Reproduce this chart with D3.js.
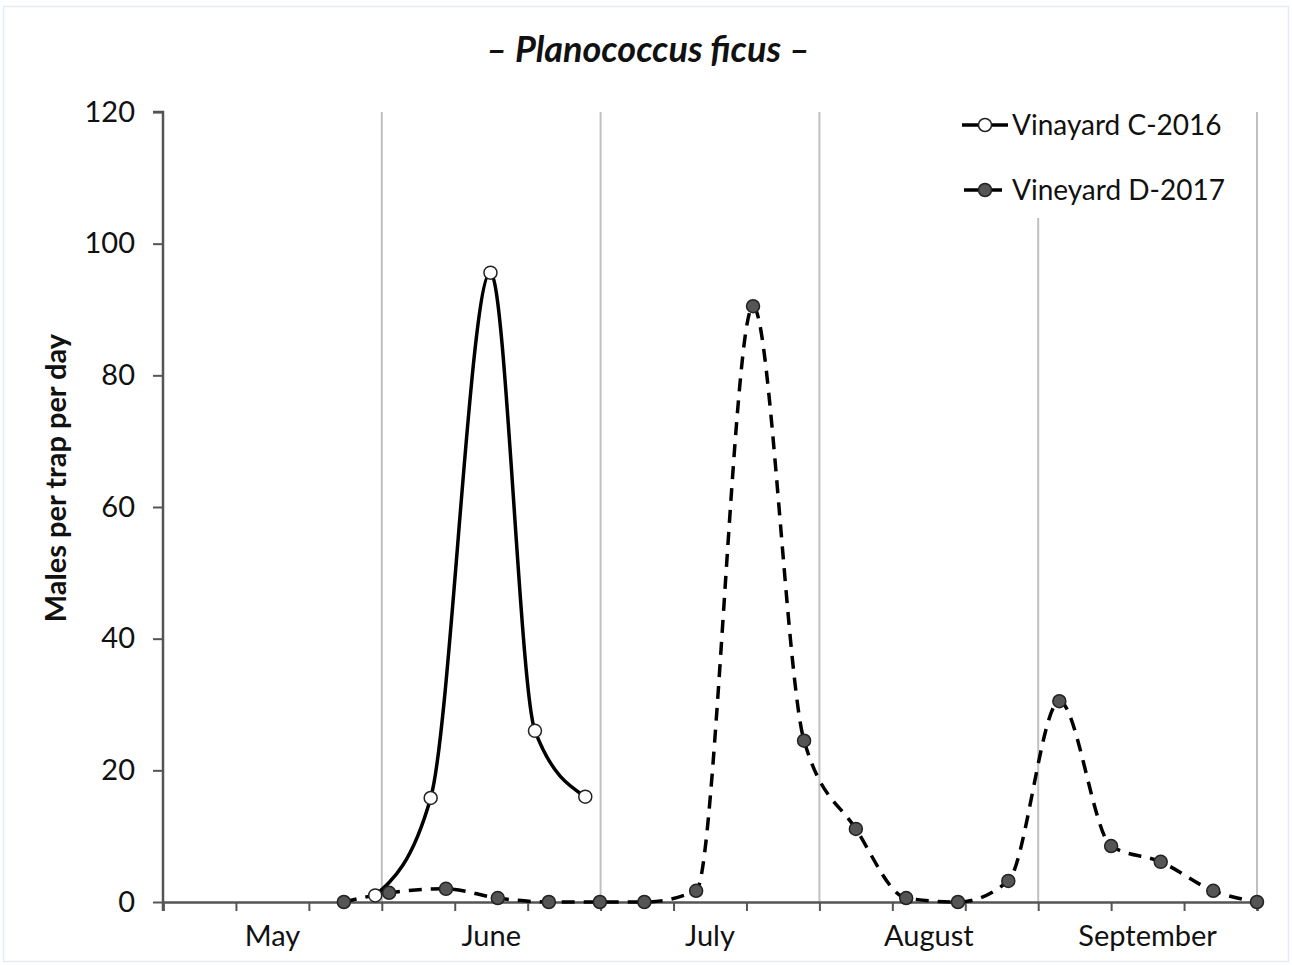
<!DOCTYPE html>
<html>
<head>
<meta charset="utf-8">
<script src="https://cdn.jsdelivr.net/npm/d3@7"></script>
<style>
  html, body { margin: 0; padding: 0; background: #fff; }
  svg { display: block; }
  text { font-family: "Lato", "Open Sans", sans-serif; fill: #111; }
</style>
</head>
<body>
<svg id="chart" width="1292" height="965"></svg>
<script>
// Trap catches, x = days since 1 May (30-day months), y = males per trap per day
const monthLabels = ["May", "June", "July", "August", "September"];
const yTicks = [0, 20, 40, 60, 80, 100, 120];

const seriesNames = ["Vinayard C-2016", "Vineyard D-2017"];

const vineyardC_days   = [29.1, 36.7, 44.9, 51.0, 57.9];
const vineyardC_values = [1.0, 15.8, 95.6, 26.0, 16.0];

const vineyardD_days   = [24.8, 31.0, 38.8, 45.9, 52.9, 59.9, 66.0, 73.1, 80.9, 87.9,
                          95.0, 101.9, 109.0, 115.9, 122.9, 130.0, 136.8, 144.0, 150.0];
const vineyardD_values = [0.0, 1.4, 2.0, 0.6, 0.0, 0.0, 0.0, 1.7, 90.5, 24.5,
                          11.1, 0.6, 0.0, 3.2, 30.5, 8.5, 6.1, 1.7, 0.0];

const svg = d3.select("#chart");
const W = 1292, H = 965;
const margin = { left: 163, right: 35, top: 112, bottom: 63 };
const plotW = W - margin.left - margin.right;
const plotH = H - margin.top - margin.bottom;

// outer chart frame
svg.append("rect")
  .attr("x", 3.5).attr("y", 6.5).attr("width", W - 7).attr("height", H - 10)
  .attr("fill", "#fff").attr("stroke", "#e3ebf3").attr("stroke-width", 1.5);

const x = d3.scaleLinear().domain([0, 150]).range([margin.left, margin.left + plotW]);
const y = d3.scaleLinear().domain([0, 120]).range([margin.top + plotH, margin.top]);

// month gridlines
const g = svg.append("g");
g.selectAll("line.grid")
  .data([30, 60, 90, 120, 150])
  .join("line")
  .attr("class", "grid")
  .attr("x1", d => x(d)).attr("x2", d => x(d))
  .attr("y1", y(120)).attr("y2", y(0))
  .attr("stroke", "#c0c0c0").attr("stroke-width", 2);

// legend background (covers gridlines in the corner)
const legend = svg.append("g");
legend.append("rect")
  .attr("x", 948).attr("y", 104).attr("width", 304).attr("height", 114)
  .attr("fill", "#fff");

// axes
const axisColor = "#555";
const xAxis = svg.append("g")
  .attr("transform", `translate(0,${y(0)})`)
  .call(d3.axisBottom(x).tickValues(d3.range(0, 151, 10)).tickSize(9).tickFormat(""));
xAxis.select(".domain").attr("stroke", axisColor).attr("stroke-width", 2.5);
xAxis.selectAll(".tick line").attr("stroke", axisColor).attr("stroke-width", 2);

const yAxis = svg.append("g")
  .attr("transform", `translate(${x(0)},0)`)
  .call(d3.axisLeft(y).tickValues(yTicks).tickSize(10).tickPadding(18));
yAxis.select(".domain").attr("stroke", axisColor).attr("stroke-width", 2.5)
  .attr("d", `M-10,${y(120)}H0V${y(0) + 9}`);
yAxis.selectAll(".tick line").attr("stroke", axisColor).attr("stroke-width", 2);
yAxis.selectAll(".tick text")
  .style("font-family", "Lato, 'Open Sans', sans-serif")
  .style("font-size", "29px").attr("fill", "#111");

// month labels centred in each month
svg.append("g").selectAll("text")
  .data(monthLabels)
  .join("text")
  .attr("x", (d, i) => x(i * 30 + 15))
  .attr("y", 946)
  .attr("text-anchor", "middle")
  .style("font-size", "29px")
  .text(d => d);

// y title
svg.append("text")
  .attr("transform", `translate(66,478) rotate(-90)`)
  .attr("text-anchor", "middle")
  .style("font-size", "29px").style("font-weight", "bold")
  .text("Males per trap per day");

// chart title
svg.append("text")
  .attr("x", 648).attr("y", 62)
  .attr("text-anchor", "middle")
  .style("font-size", "36px").style("font-weight", "bold").style("font-style", "italic")
  .text("– Planococcus ficus –");

const curve = d3.curveMonotoneX;
const line = d3.line().x(d => x(d[0])).y(d => y(d[1])).curve(curve);

const dataC = vineyardC_days.map((d, i) => [d, vineyardC_values[i]]);
const dataD = vineyardD_days.map((d, i) => [d, vineyardD_values[i]]);

// Vineyard D (dashed, filled grey markers)
svg.append("path")
  .datum(dataD)
  .attr("d", line)
  .attr("fill", "none").attr("stroke", "#000").attr("stroke-width", 3.5)
  .attr("stroke-dasharray", "13,9");

// Vineyard C (solid, open markers)
svg.append("path")
  .datum(dataC)
  .attr("d", line)
  .attr("fill", "none").attr("stroke", "#000").attr("stroke-width", 3.5);

svg.append("g").selectAll("circle")
  .data(dataD)
  .join("circle")
  .attr("cx", d => x(d[0])).attr("cy", d => y(d[1])).attr("r", 6.5)
  .attr("fill", "#555").attr("stroke", "#222").attr("stroke-width", 1.5);

svg.append("g").selectAll("circle")
  .data(dataC)
  .join("circle")
  .attr("cx", d => x(d[0])).attr("cy", d => y(d[1])).attr("r", 6.5)
  .attr("fill", "#fff").attr("stroke", "#222").attr("stroke-width", 1.5);

// legend entries
const items = [
  { name: seriesNames[0], y: 125, dash: null, fill: "#fff" },
  { name: seriesNames[1], y: 190, dash: "13,9", fill: "#555" }
];
items.forEach(it => {
  legend.append("line")
    .attr("x1", 962).attr("x2", 1008).attr("y1", it.y).attr("y2", it.y)
    .attr("stroke", "#000").attr("stroke-width", 3.5)
    .attr("stroke-dasharray", it.dash ? "14,10" : null)
    .attr("stroke-dashoffset", it.dash ? -2 : null);
  legend.append("circle")
    .attr("cx", 985).attr("cy", it.y).attr("r", 6.5)
    .attr("fill", it.fill).attr("stroke", "#222").attr("stroke-width", 1.5);
  legend.append("text")
    .attr("x", 1012).attr("y", it.y + 10)
    .style("font-size", "28px")
    .text(it.name);
});
</script>
</body>
</html>
